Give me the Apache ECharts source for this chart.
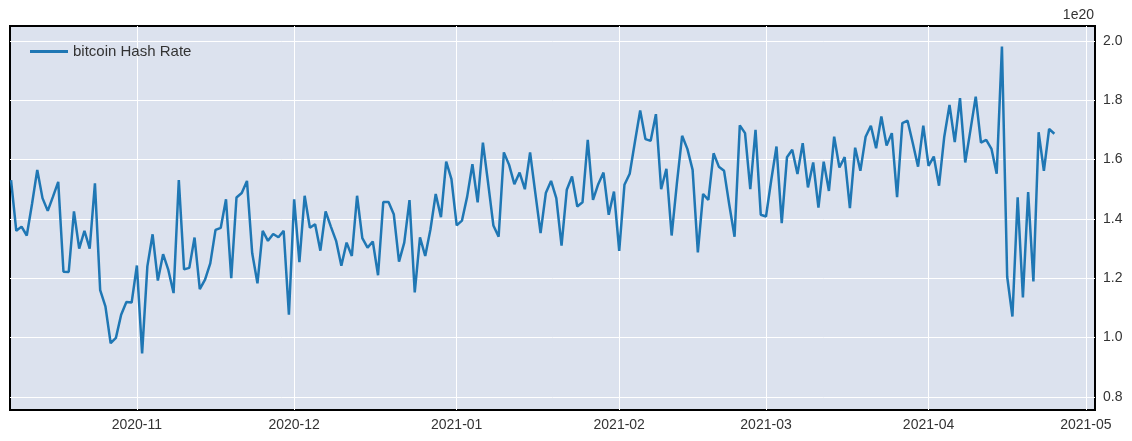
<!DOCTYPE html>
<html><head><meta charset="utf-8">
<script src="https://cdn.jsdelivr.net/npm/echarts@6/dist/echarts.min.js"></script>
<style>html,body{margin:0;padding:0;background:#fff}#c{width:1132px;height:441px}</style>
</head><body><div id="c"></div>
<script>
const startDate = '2020-10-08';
const hashRate = [
1.531,1.36,1.374,1.344,1.45,1.565,1.47,1.427,1.475,1.525,1.222,1.221,1.425,1.30,1.36,1.30,1.52,1.16,1.105,0.981,0.999,1.077,1.12,1.118,1.243,0.947,1.24,1.348,1.192,1.281,1.228,1.15,1.531,1.23,1.235,1.337,1.163,1.195,1.25,1.363,1.37,1.466,1.20,1.472,1.487,1.528,1.284,1.183,1.36,1.326,1.349,1.338,1.36,1.077,
1.466,1.254,1.478,1.37,1.382,1.293,1.425,1.374,1.326,1.242,1.32,1.275,1.478,1.335,1.303,1.324,1.21,1.457,1.457,1.416,1.256,1.32,1.463,1.152,1.338,1.275,1.365,1.484,1.406,1.593,1.534,1.378,1.394,1.475,1.584,1.456,1.657,1.52,1.378,1.34,1.624,1.582,1.517,1.556,1.50,1.624,1.487,1.352,1.487,1.528,1.47,1.31,1.498,1.543,
1.442,1.456,1.666,1.464,1.517,1.556,1.414,1.492,1.292,1.515,1.552,1.66,1.765,1.669,1.663,1.753,1.50,1.569,1.344,1.52,1.68,1.636,1.565,1.287,1.484,1.464,1.621,1.576,1.562,1.447,1.34,1.715,1.689,1.50,1.70,1.414,1.408,1.531,1.644,1.386,1.608,1.633,1.551,1.655,1.506,1.59,1.438,1.593,1.494,1.677,1.573,1.608,1.436,
1.64,1.562,1.677,1.714,1.638,1.745,1.647,1.689,1.473,1.723,1.731,1.655,1.576,1.714,1.579,1.61,1.512,1.677,1.784,1.659,1.807,1.59,1.70,1.812,1.657,1.666,1.636,1.552,1.981,1.205,1.071,1.473,1.135,1.49,1.189,1.692,1.562,1.703,1.687
];
const yTicks = [0.8,1.0,1.2,1.4,1.6,1.8,2.0];
const xTicks = ['2020-11-01','2020-12-01','2021-01-01','2021-02-01','2021-03-01','2021-04-01','2021-05-01'];

const t0 = Date.parse(startDate + 'T00:00:00Z');
const DAY = 86400000;
const data = hashRate.map((v,i)=>[t0 + i*DAY, v]);
const xTickVals = xTicks.map(s=>Date.parse(s+'T00:00:00Z'));
const FONT = 'Liberation Sans';
const chart = echarts.init(document.getElementById('c'));
chart.setOption({
  animation:false,
  grid:{left:10,right:37,top:26,bottom:31,show:true,backgroundColor:'#dce2ee',borderColor:'#000',borderWidth:2},
  legend:{left:25,top:39,itemWidth:38,itemHeight:3,icon:'rect',textStyle:{fontSize:15,color:'#333',fontFamily:FONT},data:['bitcoin Hash Rate']},
  xAxis:{type:'value',min:t0-0.2*DAY,max:Date.parse('2021-05-02T18:00:00Z'),
    axisLine:{show:false},
    axisTick:{show:false,customValues:xTickVals},
    splitLine:{show:true,lineStyle:{color:'#fff',width:1}},
    axisLabel:{customValues:xTickVals,fontSize:14,color:'#333',fontFamily:FONT,margin:8,
      formatter:v=>{const d=new Date(v);return d.getUTCFullYear()+'-'+String(d.getUTCMonth()+1).padStart(2,'0');}}},
  yAxis:{type:'value',position:'right',min:0.756,max:2.05,
    axisLine:{show:false},
    axisTick:{show:false,customValues:yTicks},
    splitLine:{show:true,lineStyle:{color:'#fff',width:1}},
    axisLabel:{customValues:yTicks,fontSize:14,color:'#333',fontFamily:FONT,margin:8,formatter:v=>v.toFixed(1)}},
  graphic:[{type:'text',right:38,top:8,style:{text:'1e20',fontSize:14,fill:'#333',fontFamily:FONT,align:'right'}}],
  series:[{name:'bitcoin Hash Rate',type:'line',data:data,showSymbol:false,lineStyle:{color:'#1f77b4',width:2.5},itemStyle:{color:'#1f77b4'}}]
});
</script></body></html>
